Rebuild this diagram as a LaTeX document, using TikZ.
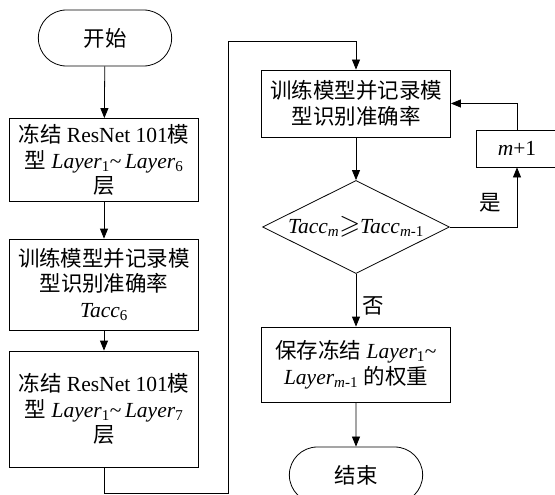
\documentclass[tikz,border=0pt]{standalone}
\usepackage{amssymb}
\usepackage{fontspec}
\setmainfont{Liberation Serif}
\newfontfamily\cjk{Noto Sans CJK SC}
\usetikzlibrary{arrows.meta, positioning, shapes.geometric, shapes.misc}

\begin{document}
\begin{tikzpicture}[
    x=1pt, y=-1pt,
    every node/.style={
        font=\fontsize{21.5}{25.5}\selectfont
    },
    terminal/.style={
        rounded rectangle,
        draw,
        line width=0.8pt,
        minimum width=140pt,
        minimum height=56pt
    },
    process/.style={
        rectangle,
        draw,
        line width=0.8pt,
        minimum width=189pt,
        minimum height=#1,
        align=center,
        inner sep=2pt
    },
    decision/.style={
        diamond,
        draw,
        line width=0.8pt,
        aspect=2,
        minimum width=187pt,
        minimum height=93pt,
        inner sep=0pt
    },
    flow/.style={
        -{Triangle[length=10pt, width=8pt]},
        line width=0.8pt
    },
    branch/.style={
        inner sep=2pt
    }
]

\useasboundingbox (0,0) rectangle (555,495);

% Left column
\node[terminal] (start) at (105,38) {{\cjk 开始}};
\node[process=83pt] (freeze6) at (104,160)
    {{\cjk 冻结} ResNet 101{\cjk 模}\\
     {\cjk 型} \textit{Layer}\textsubscript{1}\textasciitilde\,\textit{Layer}\textsubscript{6}\\
     {\cjk 层}};
\node[process=91pt] (train6) at (104,284.5)
    {{\cjk 训练模型并记录模}\\
     {\cjk 型识别准确率}\\
     \textit{Tacc}\textsubscript{6}};
\node[process=116pt] (freeze7) at (104,409)
    {{\cjk 冻结} ResNet 101{\cjk 模}\\
     {\cjk 型} \textit{Layer}\textsubscript{1}\textasciitilde\,\textit{Layer}\textsubscript{7}\\
     {\cjk 层}};

% Right column
\node[process=67pt] (trainm) at (356,103.5)
    {{\cjk 训练模型并记录模}\\
     {\cjk 型识别准确率}};
\node[decision] (check) at (356,227)
    {\textit{Tacc}\textsubscript{\textit{m}}\scalebox{1.25}{$\geqslant$}\textit{Tacc}\textsubscript{\textit{m}-1}};
\node[rectangle, draw, line width=0.8pt, minimum width=82pt, minimum height=37pt]
    (incr) at (517,148.5) {\textit{m}+1};
\node[process=75pt] (save) at (356,364.5)
    {{\cjk 保存冻结} \textit{Layer}\textsubscript{1}\textasciitilde\\
     \textit{Layer}\textsubscript{\textit{m}-1} {\cjk 的权重}};
\node[terminal] (stop) at (356,475) {{\cjk 结束}};

% Turning points of the long connector
\coordinate (lowturn) at (228,493);
\coordinate (highturn) at (228,41);

% Connectors
\draw[flow] (start) -- (freeze6);
\draw[flow] (freeze6) -- (train6);
\draw[flow] (train6) -- (freeze7);
\draw[flow] (freeze7.south) |- (lowturn) -- (highturn) -| (trainm.north);
\draw[flow] (trainm) -- (check);
\draw[flow] (check.east) -| node[branch, pos=0.5, anchor=south east, xshift=-14pt, yshift=12pt] {{\cjk 是}} (incr.south);
\draw[flow] (incr.north) |- (trainm.east);
\draw[flow] (check.south) -- node[branch, pos=0.6, right, xshift=4pt] {{\cjk 否}} (save.north);
\draw[flow] (save) -- (stop);

\end{tikzpicture}
\end{document}
